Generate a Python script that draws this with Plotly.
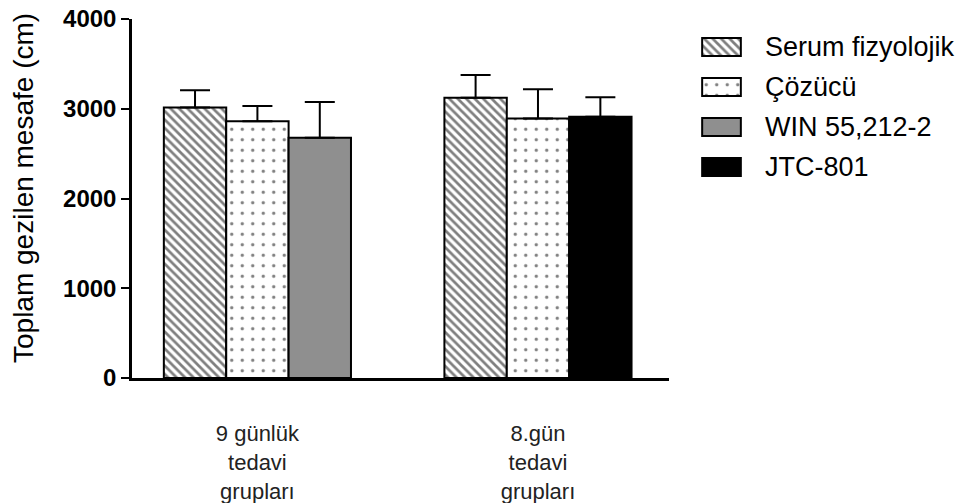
import plotly.graph_objects as go

categories = ["9 günlük<br>tedavi<br>grupları", "8.gün<br>tedavi<br>grupları"]
series_names = ["Serum fizyolojik", "Çözücü", "WIN 55,212-2", "JTC-801"]
serum_vals = [3015, 3122]
serum_err = [190, 253]
cozucu_vals = [2862, 2890]
cozucu_err = [168, 327]
win_vals = [2677, None]
win_err = [398, None]
jtc_vals = [None, 2912]
jtc_err = [None, 216]
y_ticks = [0, 1000, 2000, 3000, 4000]
y_title = "Toplam gezilen mesafe (cm)"

FONT = "Liberation Sans, Arial, sans-serif"

styles = [
    dict(color="white", pattern=dict(shape="\\", size=6, solidity=0.45, fgcolor="black", bgcolor="white")),
    dict(color="white", pattern=dict(shape=".", size=10.5, solidity=0.08, fgcolor="black", bgcolor="white")),
    dict(color="#8f8f8f"),
    dict(color="black"),
]
offsets = ["a", "b", "c", "c"]
vals = [serum_vals, cozucu_vals, win_vals, jtc_vals]
errs = [serum_err, cozucu_err, win_err, jtc_err]

fig = go.Figure()
for name, v, e, st, og in zip(series_names, vals, errs, styles, offsets):
    marker = dict(line=dict(color="black", width=2))
    marker.update(st)
    fig.add_trace(go.Bar(
        x=categories, y=v, name=name, offsetgroup=og, marker=marker,
        error_y=dict(type="data", symmetric=False, array=e,
                     arrayminus=[0 if x is not None else None for x in e],
                     color="black", thickness=2, width=15),
        showlegend=False, xaxis="x", yaxis="y",
    ))

# custom legend patches
for i, (name, st) in enumerate(zip(series_names, styles)):
    marker = dict(line=dict(color="black", width=2))
    marker.update(st)
    fig.add_trace(go.Bar(
        x=[1], y=[i], orientation="h", width=0.45, marker=marker,
        showlegend=False, xaxis="x2", yaxis="y2", hoverinfo="skip",
    ))

# page body has an 8px margin; screen coords below are compensated
W_PAPER = 841
def px_x(px):
    return (px - 132) / W_PAPER
def px_y(py):
    return (378 - py) / 359

annotations = []
for i, name in enumerate(series_names):
    annotations.append(dict(
        x=px_x(763), xref="paper", y=i, yref="y2", text=name, showarrow=False,
        xanchor="left", yanchor="middle", font=dict(family=FONT, size=27, color="black"),
    ))
annotations.append(dict(
    x=0, xref="paper", xshift=-109, y=px_y(188), yref="paper", text=y_title, textangle=-90,
    showarrow=False, xanchor="center", yanchor="middle",
    font=dict(family=FONT, size=28, color="black"),
))

fig.update_layout(
    width=965, height=495,
    margin=dict(l=124, r=0, t=11, b=125, autoexpand=False),
    paper_bgcolor="white", plot_bgcolor="white",
    barmode="group", bargap=0.333, bargroupgap=0,
    font=dict(family=FONT, color="black"),
    xaxis=dict(domain=[0, px_x(669)], range=[-0.447, 1.467], type="category",
               showline=True, linewidth=3, linecolor="black", ticks="",
               showgrid=False, zeroline=False, ticklabelstandoff=34, automargin=False,
               ticklabeloverflow="allow",
               tickfont=dict(family=FONT, size=22, color="#222222")),
    yaxis=dict(range=[0, 4000], tickvals=y_ticks, showline=True, linewidth=2.5,
               linecolor="black", ticks="outside", ticklen=8, tickwidth=2,
               tickcolor="black", showgrid=False, zeroline=False, automargin=False,
               ticklabeloverflow="allow",
               tickfont=dict(family=FONT, size=24, color="black", weight="bold")),
    xaxis2=dict(domain=[px_x(701), px_x(742)], range=[-0.03, 1.03], visible=False,
                anchor="y2", fixedrange=True),
    yaxis2=dict(domain=[px_y(187), px_y(27)], range=[3.5, -0.5], visible=False,
                anchor="x2", fixedrange=True),
    annotations=annotations,
)

fig.write_html("out.html")
